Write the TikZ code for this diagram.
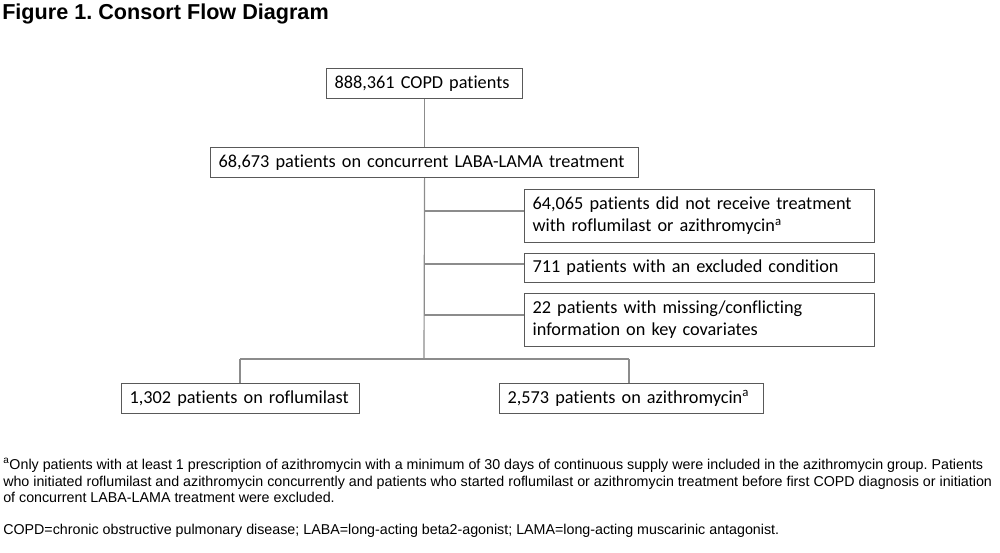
\documentclass[tikz,border=0pt]{standalone}
\usepackage{fontspec}
\setmainfont{Carlito}[Ligatures={NoCommon}]
\newfontfamily\arial{Liberation Sans}
\frenchspacing
\begin{document}
\begin{tikzpicture}[x=0.75pt,y=-0.75pt,
  box/.style={draw=boxgray,line width=0.9pt,fill=white,anchor=north west,
    inner xsep=6pt,inner ysep=0pt,align=left,font=\fontsize{13.7}{16.5}\selectfont},
  conn/.style={draw=linegray,line width=0.9pt},
  foot/.style={anchor=base west,inner sep=0pt,font=\arial\fontsize{10.7}{12}\selectfont}]
\definecolor{boxgray}{HTML}{595959}
\definecolor{linegray}{HTML}{8C8C8C}
\useasboundingbox (0,0) rectangle (1000,553);
% title
\node[anchor=base west,inner sep=0pt,font=\arial\bfseries\fontsize{16.2}{18}\selectfont] (title) at (2,19) {Figure 1. Consort Flow Diagram};
% boxes
\node[box,minimum width=196*0.75pt,minimum height=30*0.75pt,text width=180*0.75pt] (b1) at (326,68) {\mbox{888,361 COPD patients}};
\node[box,minimum width=428*0.75pt,minimum height=30*0.75pt,text width=412*0.75pt] (b2) at (210,147) {\mbox{68,673 patients on concurrent LABA-LAMA treatment}};
\node[box,minimum width=350*0.75pt,minimum height=53*0.75pt,text width=334*0.75pt] (b3) at (524,189) {\mbox{64,065 patients did not receive treatment}\\\mbox{with roflumilast or azithromycin\textsuperscript{a}}};
\node[box,minimum width=350*0.75pt,minimum height=29*0.75pt,text width=334*0.75pt] (b4) at (524,253) {\mbox{711 patients with an excluded condition}};
\node[box,minimum width=350*0.75pt,minimum height=53*0.75pt,text width=334*0.75pt] (b5) at (524,293) {\mbox{22 patients with missing/conflicting}\\\mbox{information on key covariates}};
\node[box,minimum width=238*0.75pt,minimum height=30*0.75pt,text width=222*0.75pt] (b6) at (121,383) {\mbox{1,302 patients on roflumilast}};
\node[box,minimum width=264*0.75pt,minimum height=30*0.75pt,text width=248*0.75pt] (b7) at (499,383) {\mbox{2,573 patients on azithromycin\textsuperscript{a}}};
% connectors
\coordinate (t3) at (424,211);
\coordinate (t4) at (424,264);
\coordinate (t5) at (424,315);
\coordinate (j) at (424,359);
\coordinate (jl) at (240,359);
\coordinate (jr) at (629,359);
\draw[conn] (b1.south) -- (b2.north);
\draw[conn] (b2.south) -- (j);
\draw[conn] (t3) -- (t3 -| b3.west);
\draw[conn] (t4) -- (t4 -| b4.west);
\draw[conn] (t5) -- (t5 -| b5.west);
\draw[conn] (jl) -- (jr);
\draw[conn] (jl) -- (jl |- b6.north);
\draw[conn] (jr) -- (jr |- b7.north);
% footnotes
\node[foot] (f1) at (3,469) {\textsuperscript{a}Only patients with at least 1 prescription of azithromycin with a minimum of 30 days of continuous supply were included in the azithromycin group. Patients};
\node[foot] (f2) at (3,486) {who initiated roflumilast and azithromycin concurrently and patients who started roflumilast or azithromycin treatment before first COPD diagnosis or initiation};
\node[foot] (f3) at (3,502) {of concurrent LABA-LAMA treatment were excluded.};
\node[foot] (f4) at (3,534) {COPD=chronic obstructive pulmonary disease; LABA=long-acting beta2-agonist; LAMA=long-acting muscarinic antagonist.};
\end{tikzpicture}
\end{document}
